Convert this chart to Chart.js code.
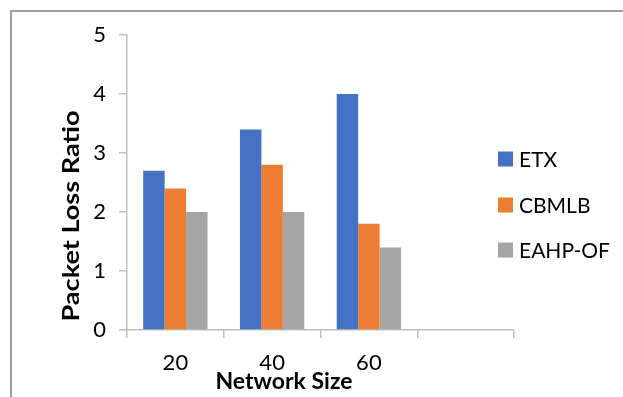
<!DOCTYPE html>
<html>
<head>
<meta charset="utf-8">
<script src="https://cdn.jsdelivr.net/npm/chart.js@4/dist/chart.umd.min.js"></script>
<style>
    html, body { margin: 0; padding: 0; background: #fff; }
    #wrap { width: 623px; height: 397px; position: relative; }
</style>
</head>
<body>
<div id="wrap"><canvas id="myChart"></canvas></div>
<script>
    const categories = ['20', '40', '60', ''];
    const etx = [2.7, 3.4, 4.0, null];
    const cbmlb = [2.4, 2.8, 1.8, null];
    const eahpOf = [2.0, 2.0, 1.4, null];
    const seriesNames = ['ETX', 'CBMLB', 'EAHP-OF'];
    const yTicks = [0, 1, 2, 3, 4, 5];

    const colors = ['#4472C4', '#ED7D31', '#A5A5A5'];
    const font = 'Lato';
    const axisColor = '#BFBFBF';

    // frame, axis titles and legend drawn by hand (legend overlaps the axis area)
    const extras = {
        id: 'extras',
        afterDraw: function(chart){
            let ctx = chart.ctx;
            ctx.save();

            ctx.strokeStyle = '#A0A0A0';
            ctx.lineWidth = 2;
            ctx.beginPath();
            ctx.moveTo(11, 398);
            ctx.lineTo(11, 11);
            ctx.lineTo(623, 11);
            ctx.stroke();

            ctx.fillStyle = '#000';
            ctx.font = 'bold 23px ' + font;
            ctx.textAlign = 'center';
            ctx.textBaseline = 'alphabetic';
            ctx.fillText('Network Size', 284, 389);

            // the y title is stretched along its length in the original
            ctx.save();
            ctx.translate(79, 216);
            ctx.rotate(-Math.PI / 2);
            let w = ctx.measureText('Packet Loss Ratio').width;
            ctx.scale(211 / w, 1);
            ctx.fillText('Packet Loss Ratio', 0, 0);
            ctx.restore();

            let legendY = [159, 205, 250];
            ctx.font = '21px ' + font;
            ctx.textAlign = 'left';
            ctx.textBaseline = 'middle';
            chart.data.datasets.forEach(function(ds, i){
                ctx.fillStyle = ds.backgroundColor;
                ctx.fillRect(498, legendY[i] - 7.5, 15, 15);
                ctx.fillStyle = '#000';
                ctx.fillText(ds.label, 519, legendY[i] + 1);
            });
            ctx.restore();
        }
    };

    new Chart(document.getElementById('myChart'), {
        type: 'bar',
        data: {
            labels: categories,
            datasets: [
                {label: seriesNames[0], data: etx, backgroundColor: colors[0]},
                {label: seriesNames[1], data: cbmlb, backgroundColor: colors[1]},
                {label: seriesNames[2], data: eahpOf, backgroundColor: colors[2]}
            ]
        },
        options: {
            responsive: true,
            maintainAspectRatio: false,
            animation: false,
            datasets: {
                bar: {categoryPercentage: 0.665, barPercentage: 1.0, borderWidth: 0}
            },
            layout: {padding: {top: 35, right: 109, left: 0, bottom: 0}},
            plugins: {
                legend: {display: false},
                tooltip: {enabled: false}
            },
            scales: {
                x: {
                    afterFit: function(scale){ scale.height = 67; },
                    grid: {
                        offset: true,
                        drawOnChartArea: false,
                        drawTicks: true,
                        tickLength: 8,
                        color: axisColor,
                        lineWidth: 1.5
                    },
                    border: {display: true, color: axisColor, width: 1.5},
                    ticks: {
                        color: '#000',
                        padding: 12,
                        font: {family: font, size: 22}
                    }
                },
                y: {
                    min: 0,
                    max: 5,
                    afterFit: function(scale){ scale.width = 127; },
                    afterBuildTicks: function(scale){
                        scale.ticks = yTicks.map(function(v){ return {value: v}; });
                    },
                    grid: {
                        drawOnChartArea: false,
                        drawTicks: true,
                        tickLength: 8,
                        color: axisColor,
                        lineWidth: 1.5
                    },
                    border: {display: true, color: axisColor, width: 1.5},
                    ticks: {
                        color: '#000',
                        padding: 13,
                        font: {family: font, size: 22}
                    }
                }
            }
        },
        plugins: [extras]
    });
</script>
</body>
</html>
